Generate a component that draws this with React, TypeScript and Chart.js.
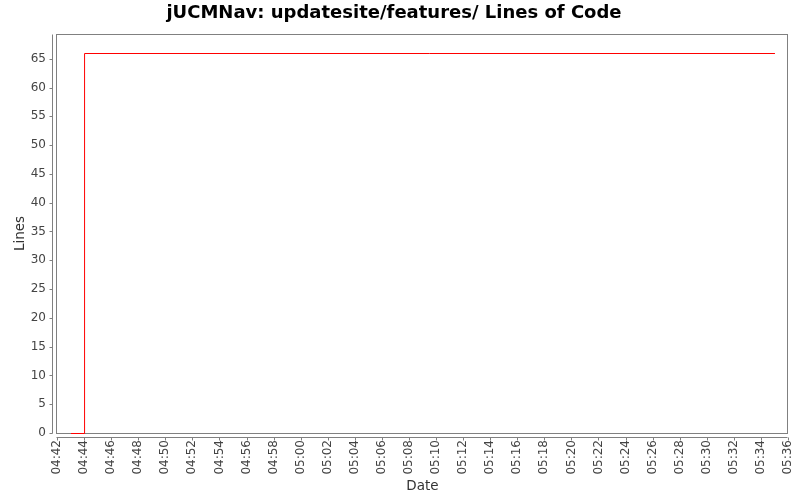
import React, { useEffect, useRef } from "react";
import { Chart, registerables } from "chart.js";

Chart.register(...registerables);

const TITLE = "jUCMNav: updatesite/features/ Lines of Code";
const X_LABEL = "Date";
const Y_LABEL = "Lines";

// data (time of day, lines of code)
const dates = ["04:43", "04:44", "05:35"];
const lineCounts = [0, 66, 66];

// axes
const xAxisStart = "04:42";
const xAxisEnd = "05:36";
const xTickStepMinutes = 2;
const yTickStep = 5;
const yAxisMax = 69.3;

const toMinutes = (s: string) => {
  const [h, m] = s.split(":").map(Number);
  return h * 60 + m;
};
const formatMinutes = (v: number) => {
  const h = Math.floor(v / 60);
  const m = Math.round(v - h * 60);
  return String(h).padStart(2, "0") + ":" + String(m).padStart(2, "0");
};

const FONT = "'DejaVu Sans', 'Noto Sans', sans-serif";

const framePlugin = {
  id: "frame",
  beforeDatasetsDraw(chart: any) {
    const { ctx, chartArea: a, scales } = chart;
    ctx.save();
    ctx.strokeStyle = "#808080";
    ctx.lineWidth = 1;
    const L = Math.round(a.left) - 0.5;
    const R = Math.round(a.right) - 0.5;
    const T = Math.round(a.top) + 0.5;
    const B = Math.round(a.bottom) + 0.5;
    ctx.strokeRect(L, T, R - L, B - T);
    ctx.beginPath();
    const yx = L - 4;
    ctx.moveTo(yx, T);
    ctx.lineTo(yx, B);
    scales.y.ticks.forEach((t: any) => {
      const py = Math.round(scales.y.getPixelForValue(t.value)) + 0.5;
      ctx.moveTo(yx - 3, py);
      ctx.lineTo(yx, py);
    });
    const xy = B + 4;
    ctx.moveTo(L, xy);
    ctx.lineTo(R, xy);
    scales.x.ticks.forEach((t: any) => {
      const px = Math.round(scales.x.getPixelForValue(t.value)) + 0.5;
      ctx.moveTo(px, xy);
      ctx.lineTo(px, xy + 3);
    });
    ctx.stroke();
    ctx.restore();
  },
  beforeDatasetDraw(chart: any) {
    // align the 1px line to the pixel grid for a crisp stroke
    chart.ctx.save();
    chart.ctx.translate(0.5, 0.5);
  },
  afterDatasetDraw(chart: any) {
    chart.ctx.restore();
  },
};

export default function App() {
  const ref = useRef<HTMLCanvasElement | null>(null);

  useEffect(() => {
    document.body.style.margin = "0";
    const canvas = ref.current;
    if (!canvas) return;
    const chart = new Chart(canvas, {
      type: "line",
      data: {
        datasets: [
          {
            label: Y_LABEL,
            data: dates.map((d, i) => ({ x: toMinutes(d), y: lineCounts[i] })),
            borderColor: "#ff0000",
            backgroundColor: "#ff0000",
            borderWidth: 1,
            pointRadius: 0,
            stepped: "before",
            fill: false,
            clip: 6,
          },
        ],
      },
      options: {
        responsive: false,
        animation: false,
        devicePixelRatio: 1,
        layout: { padding: { left: 0, right: 12, top: 0, bottom: 0 } },
        plugins: {
          legend: { display: false },
          tooltip: { enabled: false },
          title: {
            display: true,
            text: TITLE,
            color: "#000000",
            font: { family: FONT, size: 18, weight: "bold" },
            padding: { top: 3, bottom: 9.4 },
          },
        },
        scales: {
          x: {
            type: "linear",
            min: toMinutes(xAxisStart),
            max: toMinutes(xAxisEnd),
            grid: { display: false, drawTicks: false },
            border: { display: false },
            ticks: {
              stepSize: xTickStepMinutes,
              autoSkip: false,
              minRotation: 90,
              maxRotation: 90,
              padding: 7,
              color: "#444444",
              font: { family: FONT, size: 12 },
              callback: (v: any) => formatMinutes(Number(v)),
            },
            title: {
              display: true,
              text: X_LABEL,
              color: "#333333",
              font: { family: FONT, size: 13.5 },
              padding: { top: 0, bottom: 5 },
            },
            afterFit: (scale: any) => {
              scale.height = 67;
              scale.paddingLeft = 0;
              scale.paddingRight = 0;
            },
          },
          y: {
            type: "linear",
            min: 0,
            max: yAxisMax,
            grid: { display: false, drawTicks: false },
            border: { display: false },
            ticks: {
              stepSize: yTickStep,
              includeBounds: false,
              padding: 11,
              color: "#444444",
              font: { family: FONT, size: 12 },
            },
            title: {
              display: true,
              text: Y_LABEL,
              color: "#333333",
              font: { family: FONT, size: 13.5 },
              padding: { top: 12, bottom: 0 },
            },
            afterFit: (scale: any) => {
              scale.width = 57;
            },
          },
        },
      },
      plugins: [framePlugin],
    } as any);
    return () => chart.destroy();
  }, []);

  return (
    <div style={{ position: "absolute", left: 0, top: 0, width: 800, height: 500, background: "#ffffff" }}>
      <canvas ref={ref} width={800} height={500} />
    </div>
  );
}
